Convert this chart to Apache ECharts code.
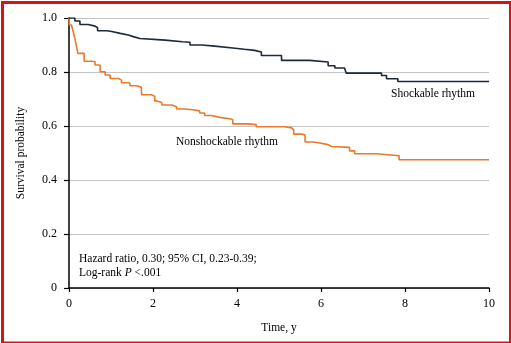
<!DOCTYPE html>
<html>
<head>
<meta charset="utf-8">
<script src="https://cdn.jsdelivr.net/npm/echarts@6/dist/echarts.min.js"></script>
<style>
html,body{margin:0;padding:0;background:#fff;}
#chart{width:511px;height:343px;}
</style>
</head>
<body>
<div id="chart"></div>
<script>
// Kaplan-Meier step points: [time (y), survival probability after the drop]
const shockableTimes = [0, 0.14, 0.26, 0.46, 0.62, 0.68, 0.90, 1.02, 1.22, 1.41, 1.53, 1.69, 2.29, 2.70, 2.88, 3.16, 3.47, 3.90, 4.18, 4.42, 4.58, 5.06, 5.73, 6.17, 6.33, 6.56, 6.60, 7.44, 7.56, 7.83, 10];
const shockableSurv  = [1.0, 0.989, 0.976, 0.970, 0.964, 0.953, 0.950, 0.943, 0.937, 0.931, 0.924, 0.918, 0.912, 0.910, 0.900, 0.896, 0.889, 0.884, 0.880, 0.874, 0.861, 0.843, 0.837, 0.823, 0.815, 0.808, 0.796, 0.787, 0.775, 0.765, 0.765];

const nonshockTimes = [0, 0.01, 0.06, 0.10, 0.14, 0.18, 0.21, 0.36, 0.53, 0.62, 0.74, 0.86, 0.98, 1.18, 1.25, 1.40, 1.45, 1.60, 1.72, 1.73, 1.96, 2.04, 2.09, 2.21, 2.45, 2.56, 2.75, 2.95, 3.11, 3.23, 3.39, 3.59, 3.83, 3.90, 4.26, 4.46, 5.14, 5.30, 5.35, 5.54, 5.62, 5.81, 5.97, 6.17, 6.25, 6.68, 6.80, 7.32, 7.86, 10];
const nonshockSurv  = [1.0, 0.974, 0.968, 0.949, 0.924, 0.894, 0.869, 0.840, 0.838, 0.826, 0.801, 0.789, 0.776, 0.770, 0.760, 0.758, 0.749, 0.744, 0.737, 0.716, 0.710, 0.693, 0.687, 0.678, 0.671, 0.663, 0.660, 0.656, 0.648, 0.639, 0.632, 0.627, 0.623, 0.608, 0.605, 0.597, 0.593, 0.586, 0.570, 0.567, 0.541, 0.537, 0.531, 0.524, 0.521, 0.508, 0.497, 0.490, 0.475, 0.475];

const xTicks = [0, 2, 4, 6, 8, 10];
const yTicks = [0, 0.2, 0.4, 0.6, 0.8, 1.0];

const seriesNames = ['Shockable rhythm', 'Nonshockable rhythm'];
const annotationLines = ['Hazard ratio, 0.30; 95% CI, 0.23-0.39;', 'Log-rank', 'P', '<.001'];

const FONT = '"Liberation Serif", "DejaVu Serif", serif';
const FS = 11.5;
const zip = (a, b) => a.map((v, i) => [v, b[i]]);

const chart = echarts.init(document.getElementById('chart'));
chart.setOption({
  animation: false,
  backgroundColor: '#ffffff',
  textStyle: { fontFamily: FONT },
  grid: { left: 69, right: 22, top: 18, bottom: 55 },
  xAxis: {
    type: 'value', min: 0, max: 10, interval: 2,
    name: 'Time, y', nameLocation: 'middle', nameGap: 34,
    nameTextStyle: { fontFamily: FONT, fontSize: FS, color: '#000' },
    axisLine: { show: true, onZero: false, lineStyle: { color: '#000', width: 1.5 } },
    axisTick: { show: true, length: 4, lineStyle: { color: '#000', width: 1.2 } },
    axisLabel: { fontFamily: FONT, fontSize: 12, color: '#000', margin: 10,
      formatter: v => xTicks.includes(v) ? String(v) : '' },
    splitLine: { show: false }
  },
  yAxis: {
    type: 'value', min: 0, max: 1, interval: 0.2,
    name: 'Survival probability', nameLocation: 'middle', nameGap: 42,
    nameTextStyle: { fontFamily: FONT, fontSize: FS, color: '#000' },
    axisLine: { show: true, lineStyle: { color: '#000', width: 1.5 } },
    axisTick: { show: true, length: 5, lineStyle: { color: '#000', width: 1.2 } },
    axisLabel: { fontFamily: FONT, fontSize: 12, color: '#000', margin: 12,
      formatter: v => { const t = yTicks.find(y => Math.abs(y - v) < 1e-9); return t === undefined ? '' : (t === 0 ? '0' : t.toFixed(1)); } },
    splitLine: { show: true, lineStyle: { color: '#c4c4c4', width: 1 } }
  },
  series: [
    {
      name: seriesNames[0], type: 'line', step: 'end', symbol: 'none',
      data: zip(shockableTimes, shockableSurv),
      lineStyle: { color: '#1d2a3a', width: 1.6 }, z: 3
    },
    {
      name: seriesNames[1], type: 'line', step: 'end', symbol: 'none',
      data: zip(nonshockTimes, nonshockSurv),
      lineStyle: { color: '#ea7a2a', width: 1.6 }, z: 2
    }
  ],
  graphic: [
    { type: 'text', left: 391, top: 88,
      style: { text: seriesNames[0], font: FS + 'px ' + FONT, fill: '#000' } },
    { type: 'text', left: 176, top: 136,
      style: { text: seriesNames[1], font: FS + 'px ' + FONT, fill: '#000' } },
    { type: 'text', left: 79, top: 253,
      style: { text: annotationLines[0], font: FS + 'px ' + FONT, fill: '#000' } },
    { type: 'text', left: 79, top: 267,
      style: { text: '{a|' + annotationLines[1] + ' }{i|' + annotationLines[2] + '}{a| ' + annotationLines[3] + '}',
        rich: { a: { fontFamily: FONT, fontSize: FS, color: '#000' },
                i: { fontFamily: FONT, fontSize: FS, fontStyle: 'italic', color: '#000' } } } },
    { type: 'rect', left: 0, top: 0, silent: true, z: 100,
      shape: { x: 1.5, y: 1, width: 508, height: 340.5 },
      style: { fill: 'none', stroke: '#d6121c', lineWidth: 3 } }
  ]
});
</script>
</body>
</html>
